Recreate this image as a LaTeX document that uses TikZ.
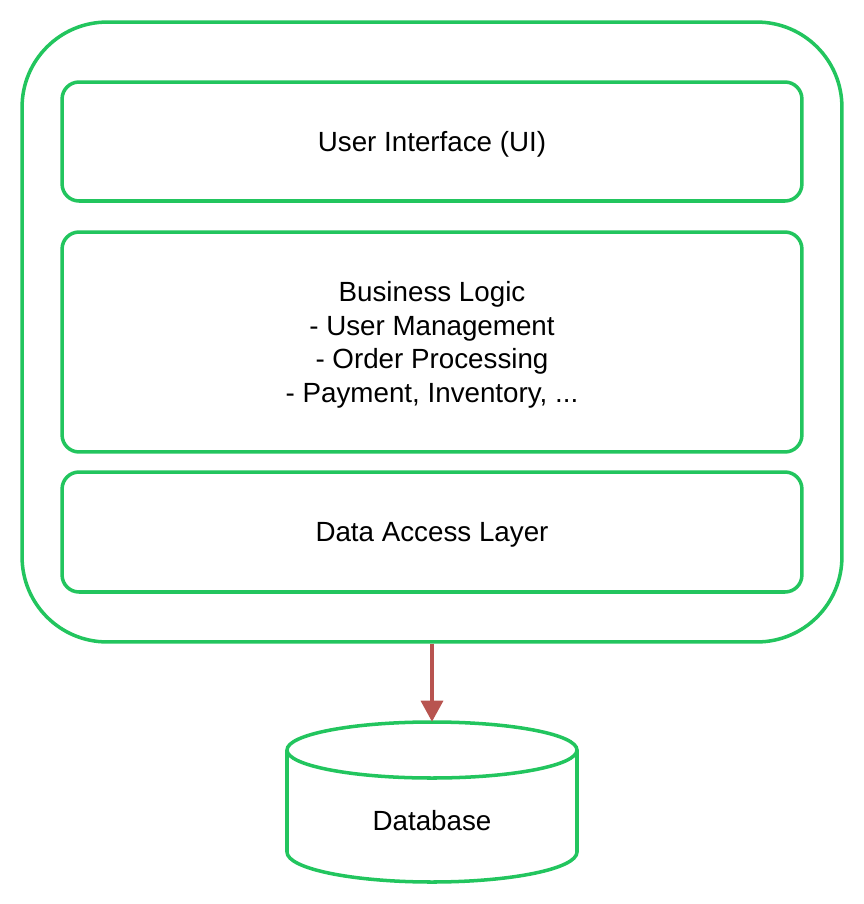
\documentclass[tikz,border=0pt]{standalone}
\usepackage{fontspec}
\setmainfont{Liberation Sans}
\definecolor{layergreen}{HTML}{22C55E}
\definecolor{linkred}{HTML}{B85450}
\usetikzlibrary{
  arrows.meta,
  positioning,
}

\begin{document}
\begin{tikzpicture}[
  x=0.02cm, y=-0.02cm,
  app/.style={
    draw=layergreen, line width=2pt, rounded corners=1.7cm,
    minimum width=16.4cm, minimum height=12.4cm,
  },
  layer/.style={
    draw=layergreen, line width=2pt, rounded corners=0.34cm,
    minimum width=14.8cm, align=center, text=black, text depth=0pt,
    font=\fontsize{15.8}{19}\selectfont,
  },
  dbtext/.style={
    minimum width=5.8cm, minimum height=3.2cm, inner sep=0pt,
    font=\fontsize{15.8}{19}\selectfont, text=black,
  },
  link/.style={
    draw=linkred, line width=2pt, -{Triangle[width=0.44cm, length=0.42cm]},
  },
]
  \useasboundingbox (0,0) rectangle (864,904);

  % Application container
  \node[app] (app) at (432,332) {};

  % Layers
  \node[layer, minimum height=2.38cm] (ui) at (432,141.5) {User Interface (UI)};
  \node[layer, minimum height=4.4cm] (logic) at (432,342)
    {Business Logic\\- User Management\\- Order Processing\\- Payment, Inventory, ...};
  \node[layer, minimum height=2.4cm] (dal) at (432,532) {Data Access Layer};

  % Database
  \node[dbtext] (db) at (432,802) {};
  \draw[layergreen, line width=2pt]
    (287,750) -- (287,852) arc[start angle=180, end angle=0, x radius=145, y radius=30]
    -- (577,750);
  \draw[layergreen, line width=2pt] (432,750) ellipse[x radius=145, y radius=28];
  \node[dbtext, anchor=center] (dblabel) at (432,821) {Database};

  % Data access to database
  \draw[link] (app.south) -- (db.north);
\end{tikzpicture}
\end{document}
